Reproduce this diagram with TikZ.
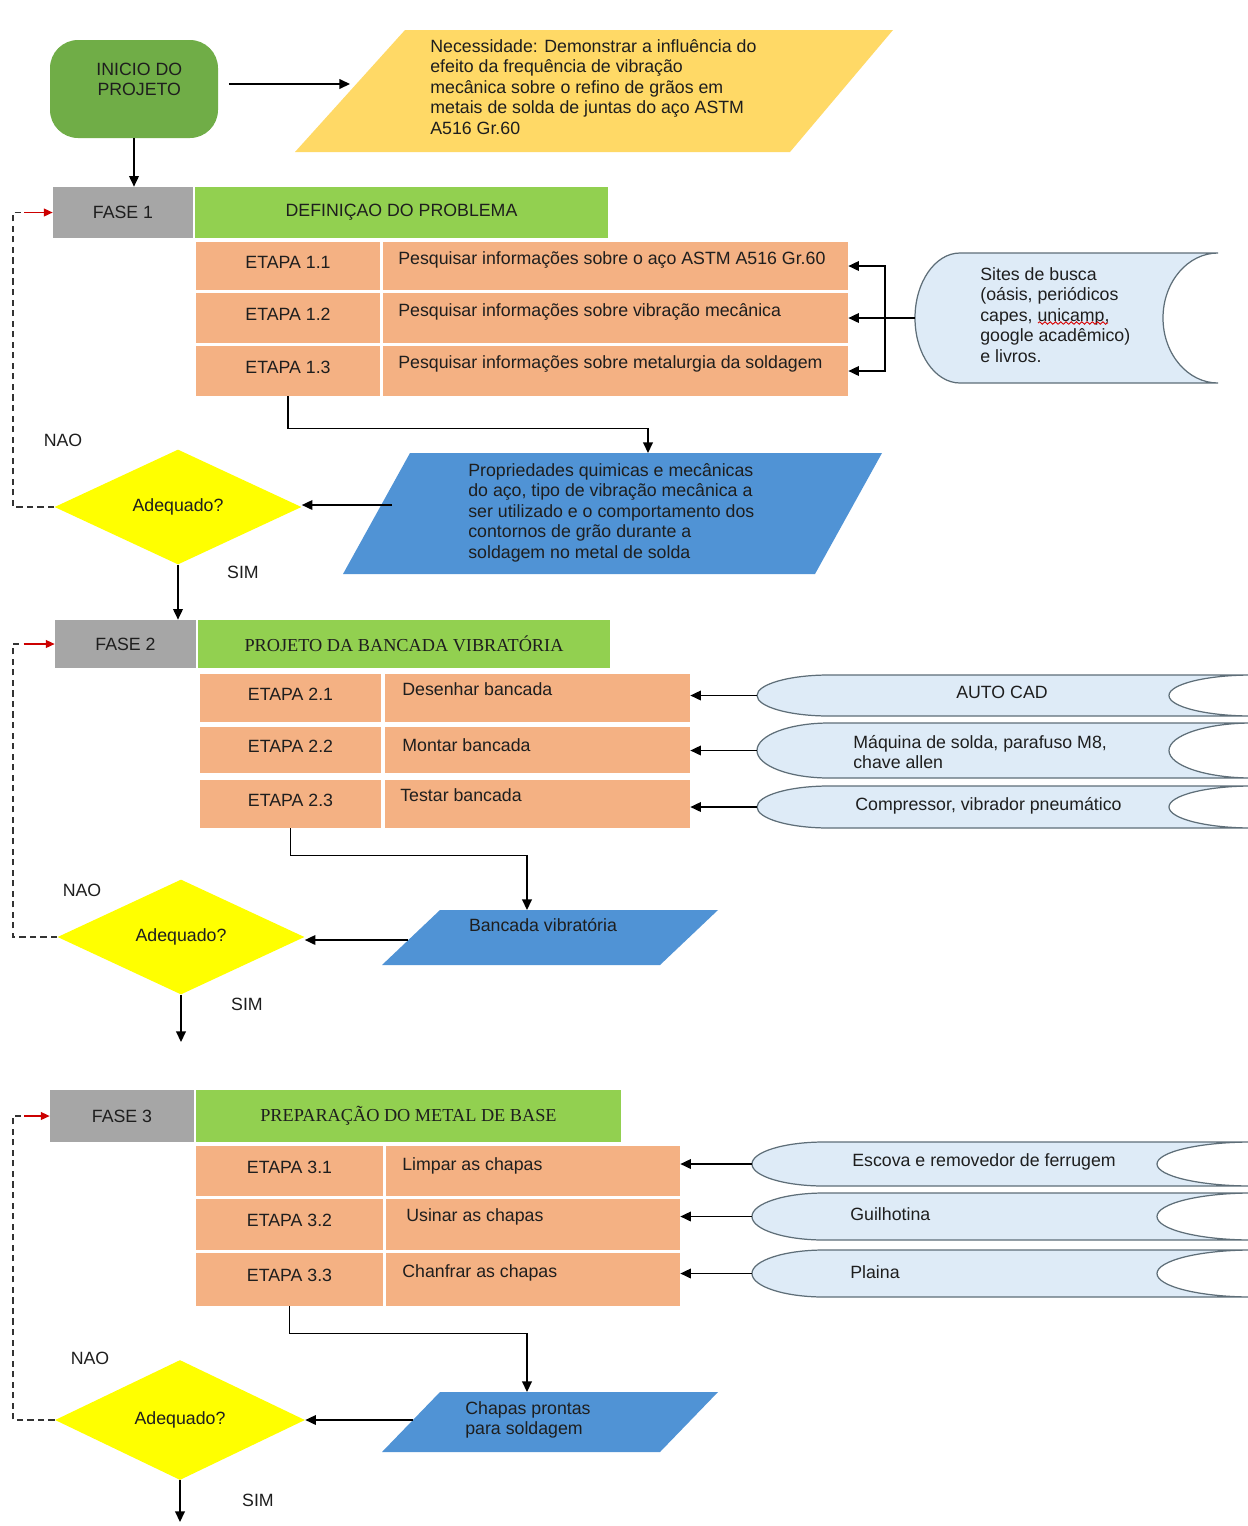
\documentclass[tikz,border=0pt]{standalone}
\usepackage{fontspec}
\setmainfont{Liberation Sans}
\newfontfamily\headserif{Liberation Serif}
\usetikzlibrary{shapes.geometric,arrows.meta,calc,decorations.pathmorphing}

\definecolor{startgreen}{HTML}{70AD47}
\definecolor{needyellow}{HTML}{FFD966}
\definecolor{phasegray}{HTML}{A6A6A6}
\definecolor{headgreen}{HTML}{92D050}
\definecolor{stepor}{HTML}{F4B183}
\definecolor{outblue}{HTML}{5093D5}
\definecolor{toolblue}{HTML}{DEEBF7}
\definecolor{tooledge}{HTML}{5E6E78}
\definecolor{decyellow}{HTML}{FFFF00}
\definecolor{inkgray}{HTML}{1E1E1E}

% stored-data symbol: name, left, top, right, bottom, left bulge, right bulge (px)
\newcommand\toolshape[7]{%
  \path[toolbox] ({#2+#6},#3) -- (#4,#3)
    .. controls ({#4-0.552*#7},#3) and ({#4-#7},{(#3+#5)/2-0.552*(#5-#3)/2}) .. ({#4-#7},{(#3+#5)/2})
    .. controls ({#4-#7},{(#3+#5)/2+0.552*(#5-#3)/2}) and ({#4-0.552*#7},#5) .. (#4,#5)
    -- ({#2+#6},#5)
    .. controls ({#2+0.448*#6},#5) and (#2,{(#3+#5)/2+0.552*(#5-#3)/2}) .. (#2,{(#3+#5)/2})
    .. controls (#2,{(#3+#5)/2-0.552*(#5-#3)/2}) and ({#2+0.448*#6},#3) .. ({#2+#6},#3) -- cycle;
  \node[inner sep=0, minimum width={(#4-#2)*0.02cm}, minimum height={(#5-#3)*0.02cm}]
    (#1) at ({(#2+#4)/2},{(#3+#5)/2}) {};
}

\begin{document}
\begin{tikzpicture}[x=0.02cm, y=-0.02cm,
  every node/.style={font=\fontsize{10.1}{11.7}\selectfont, text=inkgray},
  sz/.style 2 args={minimum width=#1*0.02cm, minimum height=#2*0.02cm},
  txt/.style={inner sep=0, align=left, anchor=north west},
  startbox/.style={rectangle, rounded corners=16pt, fill=startgreen, inner sep=0},
  phase/.style={rectangle, fill=phasegray, inner sep=0},
  head/.style={rectangle, fill=headgreen, inner sep=0},
  serifhead/.style={font=\headserif\fontsize{10.4}{12}\selectfont},
  stepcell/.style={rectangle, fill=stepor, inner sep=0, text depth=0.45em},
  desccell/.style={rectangle, fill=stepor, inner sep=0},
  decision/.style={diamond, fill=decyellow, inner sep=0, aspect=2.15},
  toolbox/.style={fill=toolblue, draw=tooledge, line width=0.7pt},
  arr/.style={draw=black, line width=0.8pt, -{Triangle[length=6pt,width=5.5pt]}},
  plain/.style={draw=black, line width=0.8pt},
  loopline/.style={draw=black!80, line width=0.7pt, dash pattern=on 3.5pt off 2.5pt},
  loopend/.style={draw=red!80!black, line width=0.7pt, -{Triangle[length=5pt,width=4.5pt]}},
  ]
\useasboundingbox[fill=white] (0,0) rectangle (1248,1526);

% ---------- start and need ----------
\node[startbox, sz={168}{98},
  label={[align=center, inner sep=0, yshift=5.5pt, xshift=3pt]center:INICIO DO\\PROJETO}] (inicio) at (134,89) {};
\fill[needyellow] (405,30) -- (893,30) -- (790,152) -- (295,152) -- cycle;
\node[txt] (need) at (430,39) {Necessidade: Demonstrar a influência do\\efeito da frequência de vibração\\mecânica sobre o refino de grãos em\\metais de solda de juntas do aço ASTM\\A516 Gr.60};
\coordinate (needin) at (350,84);
\draw[arr, shorten <=6pt] (inicio.east |- needin) -- (needin);

% ---------- FASE 1 ----------
\node[phase, sz={140}{51}] (fase1) at (123,212.5) {FASE 1};
\node[head, sz={413}{51}] (head1) at (401.5,212.5) {DEFINIÇAO DO PROBLEMA};
\draw[arr] (inicio.south) -- (inicio.south |- fase1.north);

\node[stepcell, sz={184}{48}] (e11) at (288,266) {ETAPA 1.1};
\node[stepcell, sz={184}{50}] (e12) at (288,318) {ETAPA 1.2};
\node[stepcell, sz={184}{50}] (e13) at (288,371) {ETAPA 1.3};
\node[desccell, sz={465}{48}] (d11) at (615.5,266) {};
\node[desccell, sz={465}{50}] (d12) at (615.5,318) {};
\node[desccell, sz={465}{50}] (d13) at (615.5,371) {};
\node[txt] (t11) at (398,251) {Pesquisar informações sobre o aço ASTM A516 Gr.60};
\node[txt] (t12) at (398,303) {Pesquisar informações sobre vibração mecânica};
\node[txt] (t13) at (398,355) {Pesquisar informações sobre metalurgia da soldagem};

\toolshape{sites}{915}{253}{1218}{383}{45}{55}
\node[txt] (sitestext) at (980,267) {Sites de busca\\(oásis, periódicos\\capes, unicamp,\\google acadêmico)\\e livros.};
\draw[red!85!black, line width=0.5pt, decorate, decoration={snake, amplitude=0.7pt, segment length=3pt}] (1038,323) -- (1108,323);

\coordinate (br1) at (885,318);
\draw[plain] (sites.west) -- (br1);
\draw[arr] (br1) |- (d11.east);
\draw[arr] (br1) -- (br1 -| d12.east);
\draw[arr] (br1) |- (d13.east);

\fill[outblue] (410,453) -- (882,453) -- (815,574) -- (343,574) -- cycle;
\node[txt] (out1) at (468,463) {Propriedades quimicas e mecânicas\\do aço, tipo de vibração mecânica a\\ser utilizado e o comportamento dos\\contornos de grão durante a\\soldagem no metal de solda};
\coordinate (b1in) at (648,453);
\coordinate (b1out) at (392,505);
\draw[arr] (e13.south) -- ++(0,32) -| (b1in);

\node[decision, sz={247}{115}] (dia1) at (178,507) {Adequado?};
\draw[arr] (b1out) -- (b1out -| dia1.east);
\node[inner sep=0] (nao1) at (63,440) {NAO};
\node[inner sep=0] (sim1) at (243,572) {SIM};
\coordinate (lp1) at (13,212.5);
\coordinate (lp1r) at (24,212.5);
\draw[loopline] (dia1.west) -| (lp1) -- (lp1r);
\draw[loopend] (lp1r) -- (fase1.west);

% ---------- FASE 2 ----------
\node[phase, sz={141}{48}] (fase2) at (125.5,644) {FASE 2};
\node[head, serifhead, sz={412}{48}] (head2) at (404,644) {PROJETO DA BANCADA VIBRATÓRIA};
\draw[arr] (dia1.south) -- (dia1.south |- fase2.north);

\node[stepcell, sz={181}{48}] (e21) at (290.5,698) {ETAPA 2.1};
\node[stepcell, sz={181}{46}] (e22) at (290.5,750) {ETAPA 2.2};
\node[stepcell, sz={181}{48}] (e23) at (290.5,804) {ETAPA 2.3};
\node[desccell, sz={305}{48}] (d21) at (537.5,698) {};
\node[desccell, sz={305}{46}] (d22) at (537.5,750) {};
\node[desccell, sz={305}{48}] (d23) at (537.5,804) {};
\node[txt] (t21) at (402,682) {Desenhar bancada};
\node[txt] (t22) at (402,738) {Montar bancada};
\node[txt] (t23) at (400,788) {Testar bancada};

\toolshape{s21}{757}{675}{1252}{716}{72}{83}
\toolshape{s22}{757}{723}{1252}{778}{72}{83}
\toolshape{s23}{757}{786}{1252}{828}{72}{83}
\node[inner sep=0] (s21text) at (1002,692) {AUTO CAD};
\node[txt] (s22text) at (853,735) {Máquina de solda, parafuso M8,\\chave allen};
\node[inner sep=0, anchor=west] (s23text) at (855,806) {Compressor, vibrador pneumático};
\draw[arr] (s21.west) -- (s21.west -| d21.east);
\draw[arr] (s22.west) -- (s22.west -| d22.east);
\draw[arr] (s23.west) -- (s23.west -| d23.east);

\fill[outblue] (440,910) -- (718,910) -- (660,965) -- (382,965) -- cycle;
\node[inner sep=0] (out2) at (543,925) {Bancada vibratória};
\coordinate (b2in) at (527,910);
\coordinate (b2out) at (408,940);
\draw[arr] (e23.south) -- ++(0,27) -| (b2in);

\node[decision, sz={247}{115}] (dia2) at (181,937) {Adequado?};
\draw[arr] (b2out) -- (b2out -| dia2.east);
\node[inner sep=0] (nao2) at (82,890) {NAO};
\node[inner sep=0] (sim2) at (247,1004) {SIM};
\coordinate (lp2) at (13,644);
\coordinate (lp2r) at (24,644);
\draw[loopline] (dia2.west) -| (lp2) -- (lp2r);
\draw[loopend] (lp2r) -- (fase2.west);
\coordinate (down2) at (181,1042);
\draw[arr] (dia2.south) -- (down2);

% ---------- FASE 3 ----------
\node[phase, sz={144}{52}] (fase3) at (122,1116) {FASE 3};
\node[head, serifhead, sz={425}{52}] (head3) at (408.5,1116) {PREPARAÇÃO DO METAL DE BASE};

\node[stepcell, sz={187}{50}] (e31) at (289.5,1171) {ETAPA 3.1};
\node[stepcell, sz={187}{51}] (e32) at (289.5,1224.5) {ETAPA 3.2};
\node[stepcell, sz={187}{53}] (e33) at (289.5,1279.5) {ETAPA 3.3};
\node[desccell, sz={294}{50}] (d31) at (533,1171) {};
\node[desccell, sz={294}{51}] (d32) at (533,1224.5) {};
\node[desccell, sz={294}{53}] (d33) at (533,1279.5) {};
\node[txt] (t31) at (402,1157) {Limpar as chapas};
\node[txt] (t32) at (406,1208) {Usinar as chapas};
\node[txt] (t33) at (402,1264) {Chanfrar as chapas};

\toolshape{s31}{752}{1142}{1252}{1186}{72}{95}
\toolshape{s32}{752}{1193}{1252}{1240}{72}{95}
\toolshape{s33}{752}{1250}{1252}{1297}{72}{95}
\node[inner sep=0, anchor=west] (s31text) at (852,1162) {Escova e removedor de ferrugem};
\node[inner sep=0, anchor=west] (s32text) at (850,1214) {Guilhotina};
\node[inner sep=0, anchor=west] (s33text) at (850,1272) {Plaina};
\draw[arr] (s31.west) -- (s31.west -| d31.east);
\draw[arr] (s32.west) -- (s32.west -| d32.east);
\draw[arr] (s33.west) -- (s33.west -| d33.east);

\fill[outblue] (440,1392) -- (718,1392) -- (660,1452) -- (382,1452) -- cycle;
\node[txt] (out3) at (465,1401) {Chapas prontas\\para soldagem};
\coordinate (b3in) at (527,1392);
\coordinate (b3out) at (413,1420);
\draw[arr] (e33.south) -- ++(0,27) -| (b3in);

\node[decision, sz={250}{120}] (dia3) at (180,1420) {Adequado?};
\draw[arr] (b3out) -- (b3out -| dia3.east);
\node[inner sep=0] (nao3) at (90,1358) {NAO};
\node[inner sep=0] (sim3) at (258,1500) {SIM};
\coordinate (lp3) at (13,1116);
\coordinate (lp3r) at (24,1116);
\draw[loopline] (dia3.west) -| (lp3) -- (lp3r);
\draw[loopend] (lp3r) -- (fase3.west);
\coordinate (down3) at (180,1522);
\draw[arr] (dia3.south) -- (down3);
\end{tikzpicture}
\end{document}
